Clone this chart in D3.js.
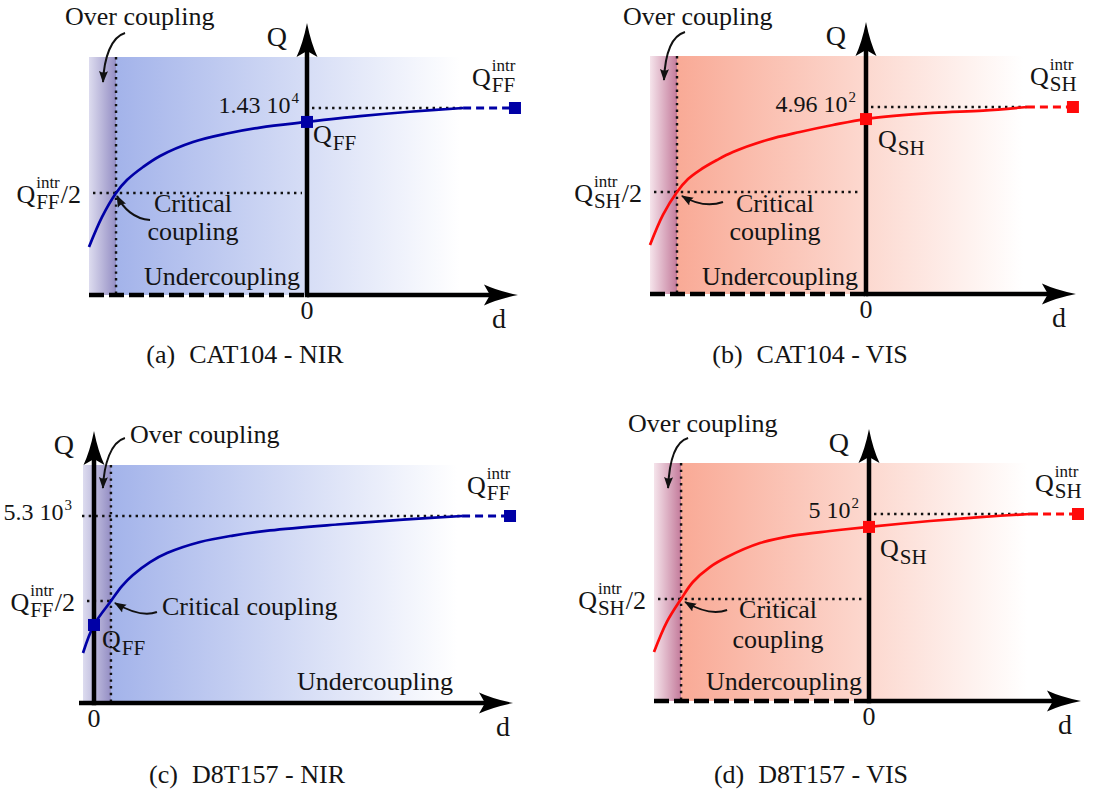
<!DOCTYPE html>
<html><head><meta charset="utf-8">
<script src="https://cdn.jsdelivr.net/npm/d3@7"></script>
<style>
body{margin:0;background:#fff}
svg text{font-family:"Liberation Serif","Times New Roman",serif;fill:#141414}
</style>
</head><body>
<svg id="c" width="1094" height="796" font-family="Liberation Serif, serif"></svg>
<script>
// ---------------- data ----------------
const panelLetters = ["(a)", "(b)", "(c)", "(d)"];
const captions = ["CAT104 - NIR", "CAT104 - VIS", "D8T157 - NIR", "D8T157 - VIS"];
const qSubscripts = ["FF", "SH", "FF", "SH"];
const qIntrMantissa = ["1.43 10", "4.96 10", "5.3 10", "5 10"];
const qIntrExponent = ["4", "2", "3", "2"];
const regionLabels = ["Over coupling", "Critical coupling", "Undercoupling"];

// Q / Q_intr versus gap d (arbitrary units, d = 0 at the Q axis)
const curveD_a = [-1.0, -0.94, -0.876, -0.826, -0.752, -0.674, -0.523, -0.367, -0.216, 0, 0.243, 0.472, 0.716];
const curveQ_a = [0.182, 0.359, 0.5, 0.576, 0.653, 0.718, 0.8, 0.85, 0.885, 0.918, 0.952, 0.978, 1.0];
const curveD_b = [-1.0, -0.94, -0.875, -0.824, -0.769, -0.69, -0.616, -0.458, -0.306, -0.153, 0, 0.31, 0.542, 0.745];
const curveQ_b = [0.188, 0.365, 0.5, 0.576, 0.629, 0.688, 0.735, 0.806, 0.853, 0.894, 0.929, 0.965, 0.979, 1.0];
const curveD_c = [-0.05, 0, 0.077, 0.127, 0.177, 0.255, 0.332, 0.482, 0.632, 0.8, 1.105, 1.405, 1.673];
const curveQ_c = [0.194, 0.359, 0.5, 0.588, 0.653, 0.729, 0.782, 0.847, 0.885, 0.915, 0.95, 0.979, 1.0];
const curveD_d = [-1.0, -0.94, -0.874, -0.819, -0.74, -0.66, -0.507, -0.353, -0.181, 0, 0.284, 0.516, 0.749];
const curveQ_d = [0.188, 0.365, 0.5, 0.6, 0.688, 0.747, 0.829, 0.873, 0.9, 0.924, 0.959, 0.982, 1.0];

const criticalD = [-0.876, -0.875, 0.077, -0.874];
const markerQ0 = [0.918, 0.929, 0.359, 0.924];     // Q at d = 0
const intrMarkerD = [0.954, 0.958, 1.891, 0.972];  // where Q reaches Q_intr
const fadeEndD = [0.70, 0.727, 1.65, 0.735];

const curves = [[curveD_a, curveQ_a], [curveD_b, curveQ_b], [curveD_c, curveQ_c], [curveD_d, curveQ_d]];

// ---------------- layout / style ----------------
const themes = {
  blue: {band0: "#dddcef", band1: "#948ec4", main: "#a3b3ea", line: "#0000a6"},
  red:  {band0: "#f5e4eb", band1: "#c47b9b", main: "#f9aa96", line: "#ff0a0a"}
};
const layout = [
  {x0: 89, x1: 525, xDom: [-1, 1], axisY: 295, theme: "blue", negDashed: true, halfEnd: "axis",
   qLab: [6, 21], valEnd: "axis", valDx: -7, valDy: 5,
   crit: {lines: 2, dx: 77, dy: [19, 47], s: [34, 27], t: [1, 3], style: "up"},
   over: {dx: -51, dy: -32, s: [9, -24], t: [-13, 25]},
   under: {ref: "axis", dx: -7, dy: -10}, dLabDx: -19, cap: [245, 363]},
  {x0: 650, x1: 1082, xDom: [-1, 1], axisY: 294, theme: "red", negDashed: true, halfEnd: "axis",
   qLab: [12, 29], valEnd: "axis", valDx: -9, valDy: 5,
   crit: {lines: 2, dx: 98, dy: [20, 48], s: [46, 10], t: [5, 4], style: "flat"},
   over: {dx: -54, dy: -31, s: [8, -24], t: [-13, 24]},
   under: {ref: "axis", dx: -8, dy: -9}, dLabDx: -17, cap: [810, 363]},
  {x0: 83, x1: 534, xDom: [-0.05, 2], axisY: 703, theme: "blue", negDashed: false, halfEnd: "critical",
   qLab: [8, 23], valEnd: "left", valDx: -10, valDy: 4,
   crit: {lines: 1, dx: 51, dy: [14], s: [46, 11], t: [4, 2], style: "flat"},
   over: {dx: 19, dy: -22, s: [14, -27], t: [-8, 23]},
   under: {ref: "fade", dx: -4, dy: -13}, dLabDx: -10, cap: [247, 783]},
  {x0: 654, x1: 1084, xDom: [-1, 1], axisY: 701, theme: "red", negDashed: true, halfEnd: "axis",
   qLab: [11, 30], valEnd: "axis", valDx: -9, valDy: 4,
   crit: {lines: 2, dx: 97, dy: [19, 49], s: [46, 11], t: [4, 3], style: "flat"},
   over: {dx: -53, dy: -31, s: [7, -25], t: [-13, 25]},
   under: {ref: "axis", dx: -7, dy: -11}, dLabDx: -16, cap: [811, 783]}
];

const svg = d3.select("#c");
const defs = svg.append("defs");
defs.append("marker").attr("id", "ah")
  .attr("viewBox", "0 0 12 10").attr("refX", 11).attr("refY", 5)
  .attr("markerWidth", 12).attr("markerHeight", 10)
  .attr("markerUnits", "userSpaceOnUse").attr("orient", "auto")
  .append("path").attr("d", "M0,0.5 L12,5 L0,9.5 Q3,5 0,0.5Z").attr("fill", "#111");

const MAIN = 26, SUB = 21, SUP = 17;

function rich(parent, x, y, parts, anchor) {
  const g = parent.append("g");
  let cx = 0;
  parts.forEach(p => {
    if (p.stack) {
      let w = 0;
      if (p.sup) {
        const t = g.append("text").attr("x", cx + 1).attr("y", p.supDy || -15)
          .style("font-size", (p.supSize || SUP) + "px").text(p.sup);
        w = Math.max(w, t.node().getComputedTextLength());
      }
      if (p.sub) {
        const t = g.append("text").attr("x", cx + 1).attr("y", p.subDy || 6)
          .style("font-size", SUB + "px").text(p.sub);
        w = Math.max(w, t.node().getComputedTextLength());
      }
      cx += w + 2;
    } else {
      const t = g.append("text").attr("x", cx).attr("y", 0)
        .style("font-size", (p.size || MAIN) + "px").text(p.t);
      cx += t.node().getComputedTextLength();
    }
  });
  const dx = anchor === "end" ? -cx : anchor === "middle" ? -cx / 2 : 0;
  g.attr("transform", `translate(${x + dx},${y})`);
  return g;
}

function axisHead(g, tipX, tipY, dir) {
  let d;
  if (dir === "up") {
    d = `M${tipX},${tipY} Q${tipX + 4},${tipY + 20} ${tipX + 10.5},${tipY + 34} L${tipX},${tipY + 28} L${tipX - 10.5},${tipY + 34} Q${tipX - 4},${tipY + 20} ${tipX},${tipY}Z`;
  } else {
    d = `M${tipX},${tipY} Q${tipX - 20},${tipY + 4} ${tipX - 34},${tipY + 10.5} L${tipX - 28},${tipY} L${tipX - 34},${tipY - 10.5} Q${tipX - 20},${tipY - 4} ${tipX},${tipY}Z`;
  }
  g.append("path").attr("d", d).attr("fill", "#000");
}

layout.forEach((L, i) => {
  const th = themes[L.theme];
  const g = svg.append("g");
  const x = d3.scaleLinear().domain(L.xDom).range([L.x0, L.x1]);
  const y = d3.scaleLinear().domain([-0.1, 1.3]).range([L.axisY, L.axisY - 238]);
  const X0 = x(L.xDom[0]), Xc = x(criticalD[i]), Xf = x(fadeEndD[i]), Xa = x(0);
  const top = y(1.3), bot = y(-0.1);
  const [cd, cq] = curves[i];
  const dEnd = cd[cd.length - 1];
  const Xm = x(intrMarkerD[i]);

  const gb = defs.append("linearGradient").attr("id", "gb" + i).attr("gradientUnits", "userSpaceOnUse")
    .attr("x1", X0).attr("x2", Xc).attr("y1", 0).attr("y2", 0);
  gb.append("stop").attr("offset", 0).attr("stop-color", th.band0);
  gb.append("stop").attr("offset", 1).attr("stop-color", th.band1);
  const gm = defs.append("linearGradient").attr("id", "gm" + i).attr("gradientUnits", "userSpaceOnUse")
    .attr("x1", Xc).attr("x2", Xf).attr("y1", 0).attr("y2", 0);
  gm.append("stop").attr("offset", 0).attr("stop-color", th.main);
  gm.append("stop").attr("offset", 1).attr("stop-color", "#ffffff");

  g.append("rect").attr("x", X0).attr("y", top).attr("width", Xc - X0).attr("height", bot - top).attr("fill", `url(#gb${i})`);
  g.append("rect").attr("x", Xc).attr("y", top).attr("width", Xf - Xc).attr("height", bot - top).attr("fill", `url(#gm${i})`);

  const dotted = (x1, y1, x2, y2) => g.append("line").attr("x1", x1).attr("y1", y1).attr("x2", x2).attr("y2", y2)
    .attr("stroke", "#111").attr("stroke-width", 2.4).attr("stroke-dasharray", "2.4 4.3");

  dotted(Xc, top, Xc, bot);
  const hStart = L.negDashed ? Xa + 5 : X0 - 1;
  dotted(hStart, y(1), x(dEnd), y(1));
  dotted(X0 + 4, y(0.5), L.halfEnd === "axis" ? Xa - 5 : Xc, y(0.5));

  const line = d3.line().x(d => x(d[0])).y(d => y(d[1])).curve(d3.curveCatmullRom.alpha(0.5));
  g.append("path").attr("d", line(cd.map((v, k) => [v, cq[k]])))
    .attr("fill", "none").attr("stroke", th.line).attr("stroke-width", 2.7);
  g.append("line").attr("x1", x(dEnd)).attr("y1", y(1)).attr("x2", Xm).attr("y2", y(1))
    .attr("stroke", th.line).attr("stroke-width", 3).attr("stroke-dasharray", "8 5");

  const tipX = Xm + 3;
  if (L.negDashed) {
    g.append("line").attr("x1", X0).attr("y1", L.axisY).attr("x2", Xa).attr("y2", L.axisY)
      .attr("stroke", "#000").attr("stroke-width", 4.5).attr("stroke-dasharray", "15 5");
    g.append("line").attr("x1", Xa).attr("y1", L.axisY).attr("x2", tipX - 20).attr("y2", L.axisY)
      .attr("stroke", "#000").attr("stroke-width", 4.5);
  } else {
    g.append("line").attr("x1", X0 - 4).attr("y1", L.axisY).attr("x2", tipX - 20).attr("y2", L.axisY)
      .attr("stroke", "#000").attr("stroke-width", 4.5);
  }
  axisHead(g, tipX, L.axisY, "right");
  const tipY = top - 34;
  g.append("line").attr("x1", Xa).attr("y1", L.axisY + 2.2).attr("x2", Xa).attr("y2", tipY + 20)
    .attr("stroke", "#000").attr("stroke-width", 4.5);
  axisHead(g, Xa, tipY, "up");

  const S = 12;
  g.append("rect").attr("x", Xa - S / 2).attr("y", y(markerQ0[i]) - S / 2).attr("width", S).attr("height", S).attr("fill", th.line);
  g.append("rect").attr("x", Xm - S / 2).attr("y", y(1) - S / 2).attr("width", S).attr("height", S).attr("fill", th.line);

  g.append("text").attr("x", Xa - 20).attr("y", top - 11).attr("text-anchor", "end").style("font-size", "28px").text("Q");
  g.append("text").attr("x", Xa).attr("y", L.axisY + 24).attr("text-anchor", "middle").style("font-size", MAIN + "px").text("0");
  g.append("text").attr("x", tipX + L.dLabDx).attr("y", L.axisY + 33).attr("text-anchor", "middle").style("font-size", "28px").text("d");

  const valX = L.valEnd === "axis" ? Xa + L.valDx : X0 + L.valDx;
  rich(g, valX, y(1) + L.valDy, [{t: qIntrMantissa[i], size: 24}, {stack: true, sup: qIntrExponent[i], supDy: -10, supSize: 15}], "end");

  rich(g, X0 - 8, y(0.5) + 10, [{t: "Q"}, {stack: true, sup: "intr", sub: qSubscripts[i]}, {t: "/2"}], "end");

  rich(g, Xa + L.qLab[0], y(markerQ0[i]) + L.qLab[1], [{t: "Q"}, {stack: true, sub: qSubscripts[i], subDy: 7}], "start");

  rich(g, Xm - 43, y(1) - 22, [{t: "Q"}, {stack: true, sup: "intr", sub: qSubscripts[i]}], "start");

  g.append("text").attr("x", Xc + L.over.dx).attr("y", top + L.over.dy).style("font-size", MAIN + "px").text(regionLabels[0]);
  {
    const s = [Xc + L.over.s[0], top + L.over.s[1]], t = [Xc + L.over.t[0], top + L.over.t[1]];
    g.append("path").attr("d", `M${s[0]},${s[1]} C${s[0] - 14},${s[1] + 4} ${t[0] + 1},${t[1] - 24} ${t[0]},${t[1]}`)
      .attr("fill", "none").attr("stroke", "#111").attr("stroke-width", 2).attr("marker-end", "url(#ah)");
  }

  const cy = y(0.5);
  if (L.crit.lines === 2) {
    g.append("text").attr("x", Xc + L.crit.dx).attr("y", cy + L.crit.dy[0]).attr("text-anchor", "middle").style("font-size", MAIN + "px").text("Critical");
    g.append("text").attr("x", Xc + L.crit.dx).attr("y", cy + L.crit.dy[1]).attr("text-anchor", "middle").style("font-size", MAIN + "px").text("coupling");
  } else {
    g.append("text").attr("x", Xc + L.crit.dx).attr("y", cy + L.crit.dy[0]).style("font-size", MAIN + "px").text(regionLabels[1]);
  }
  {
    const s = [Xc + L.crit.s[0], cy + L.crit.s[1]], t = [Xc + L.crit.t[0], cy + L.crit.t[1]];
    const d = L.crit.style === "up"
      ? `M${s[0]},${s[1]} C${s[0] - 16},${s[1] - 1} ${t[0] + 6},${t[1] + 12} ${t[0]},${t[1]}`
      : `M${s[0]},${s[1]} C${s[0] - 14},${s[1] + 5} ${t[0] + 12},${t[1] + 7} ${t[0]},${t[1]}`;
    g.append("path").attr("d", d).attr("fill", "none").attr("stroke", "#111").attr("stroke-width", 2).attr("marker-end", "url(#ah)");
  }

  const ux = (L.under.ref === "axis" ? Xa : Xf) + L.under.dx;
  g.append("text").attr("x", ux).attr("y", L.axisY + L.under.dy).attr("text-anchor", "end").style("font-size", MAIN + "px").text(regionLabels[2]);

  const cap = g.append("text").attr("x", L.cap[0]).attr("y", L.cap[1]).attr("text-anchor", "middle").style("font-size", MAIN + "px");
  cap.append("tspan").text(panelLetters[i]);
  cap.append("tspan").attr("dx", 14).text(captions[i]);
});
</script>
</body></html>
